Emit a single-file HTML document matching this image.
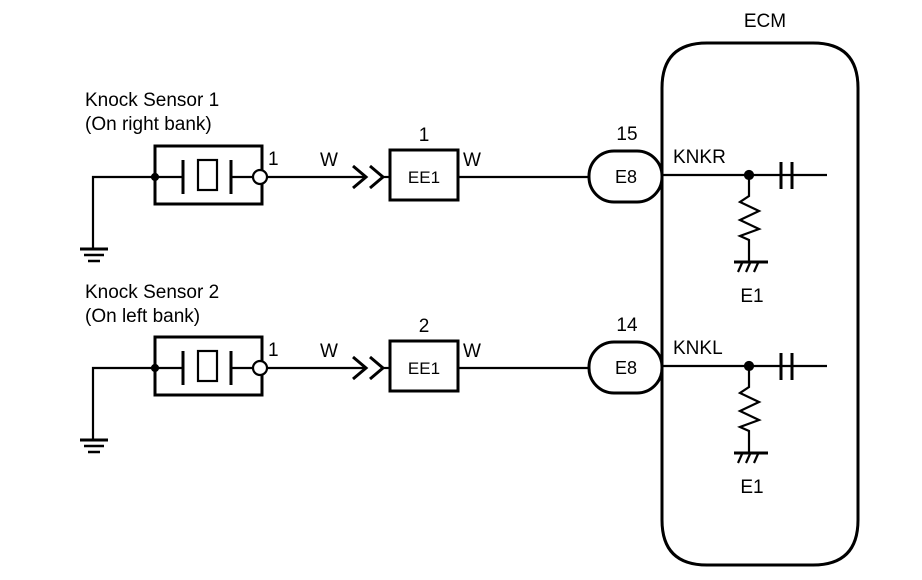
<!DOCTYPE html>
<html><head><style>
html,body{margin:0;padding:0;background:#fff;}
svg{display:block;}
text{font-family:"Liberation Sans",sans-serif;fill:#000;}
</style></head><body>
<svg width="922" height="580" viewBox="0 0 922 580" xmlns="http://www.w3.org/2000/svg">
<defs>
<g id="row" stroke="#000" fill="none" stroke-width="2.2">
  <polyline points="155,177 93,177 93,248"/>
  <line x1="80" y1="249" x2="108" y2="249" stroke-width="3"/>
  <line x1="84" y1="255" x2="104" y2="255" stroke-width="2.5"/>
  <line x1="88" y1="261" x2="100" y2="261" stroke-width="2.5"/>
  <rect x="155" y="146" width="107" height="58" stroke-width="3"/>
  <line x1="155" y1="177" x2="183" y2="177"/>
  <line x1="183" y1="160" x2="183" y2="194" stroke-width="3"/>
  <rect x="198" y="160" width="19" height="30"/>
  <line x1="231" y1="160" x2="231" y2="194" stroke-width="3"/>
  <line x1="231" y1="177" x2="253" y2="177"/>
  <circle cx="155" cy="177" r="3" fill="#000"/>
  <circle cx="260" cy="177" r="7" fill="#fff"/>
  <line x1="267" y1="177" x2="366" y2="177"/>
  <polyline points="353,166 366,177 353,188" stroke-width="3"/>
  <polyline points="370,166 383,177 370,188" stroke-width="3"/>
  <line x1="383" y1="177" x2="390" y2="177"/>
  <rect x="390" y="150" width="68" height="50" stroke-width="3"/>
  <line x1="458" y1="177" x2="590" y2="177"/>
  <rect x="589" y="151" width="73" height="51" rx="25" ry="25" stroke-width="3"/>
  <line x1="662" y1="175" x2="827" y2="175"/>
  <circle cx="749" cy="175" r="4" fill="#000"/>
  <line x1="781" y1="162" x2="781" y2="189" stroke-width="3"/>
  <line x1="792" y1="162" x2="792" y2="189" stroke-width="3"/>
  <polyline points="749,175 749,196 740,202 759,211 740,220 759,229 740,236 749,240 749,262"/>
  <line x1="734" y1="262" x2="768" y2="262" stroke-width="3"/>
  <line x1="738" y1="272" x2="742" y2="263"/>
  <line x1="746" y1="272" x2="750" y2="263"/>
  <line x1="754" y1="272" x2="758" y2="263"/>
</g>
</defs>
<use href="#row"/>
<use href="#row" transform="translate(0,191)"/>
<path d="M662,88 Q662,43 707,43 L813,43 Q858,43 858,88 L858,520 Q858,565 813,565 L707,565 Q662,565 662,520 Z" fill="none" stroke="#000" stroke-width="3"/>
<g font-size="19">
<text x="765" y="27" text-anchor="middle">ECM</text>
<text x="85" y="106">Knock Sensor 1</text>
<text x="85" y="130">(On right bank)</text>
<text x="85" y="298">Knock Sensor 2</text>
<text x="85" y="322">(On left bank)</text>
<text x="268" y="165">1</text>
<text x="268" y="356">1</text>
<text x="320" y="166">W</text>
<text x="320" y="357">W</text>
<text x="463" y="166">W</text>
<text x="463" y="357">W</text>
<text x="424" y="141" text-anchor="middle">1</text>
<text x="424" y="332" text-anchor="middle">2</text>
<text x="424" y="183" text-anchor="middle" font-size="17">EE1</text>
<text x="424" y="374" text-anchor="middle" font-size="17">EE1</text>
<text x="627" y="140" text-anchor="middle">15</text>
<text x="627" y="331" text-anchor="middle">14</text>
<text x="626" y="183" text-anchor="middle" font-size="18">E8</text>
<text x="626" y="374" text-anchor="middle" font-size="18">E8</text>
<text x="673" y="163">KNKR</text>
<text x="673" y="354">KNKL</text>
<text x="752" y="302" text-anchor="middle">E1</text>
<text x="752" y="493" text-anchor="middle">E1</text>
</g>
</svg>
</body></html>
